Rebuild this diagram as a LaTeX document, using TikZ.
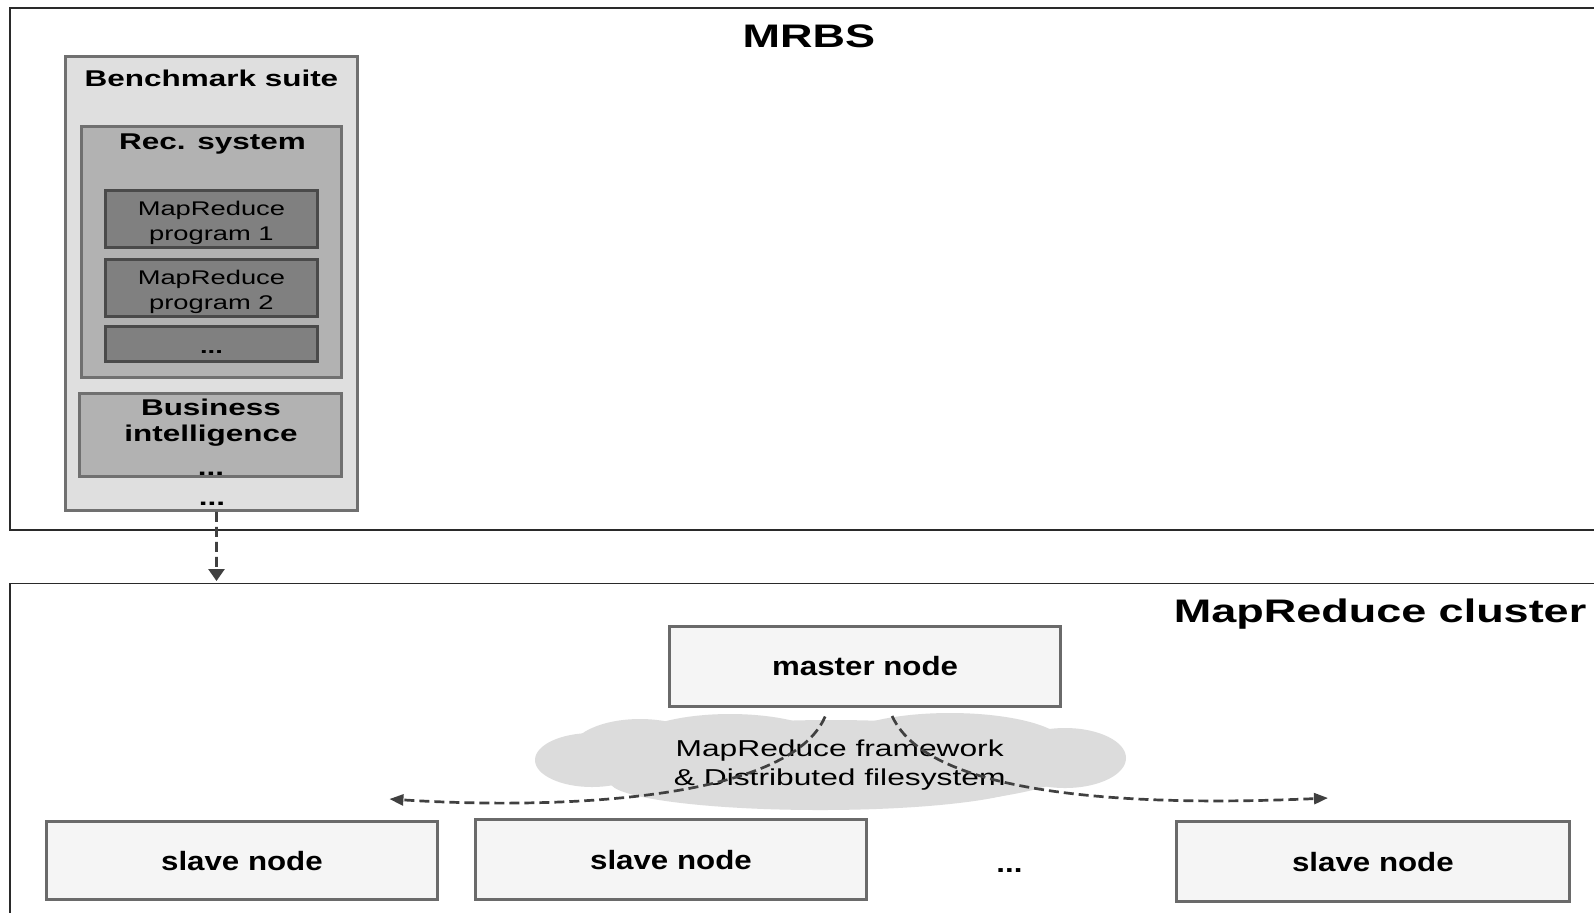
\documentclass[tikz,border=0pt]{standalone}
\usepackage{fontspec}
\usetikzlibrary{arrows.meta}
\newfontfamily\widefont[FakeStretch=1.38]{Liberation Sans}
\newfontfamily\midfont[FakeStretch=1.18]{Liberation Sans}
\newcommand{\mytitlefont}{\widefont\bfseries\fontsize{16.3pt}{19pt}\selectfont}
\newcommand{\myheadfont}{\widefont\bfseries\fontsize{11.4pt}{13pt}\selectfont}
\newcommand{\myprogfont}{\widefont\fontsize{9.9pt}{12pt}\selectfont}
\newcommand{\mycloudfont}{\widefont\fontsize{11.5pt}{13pt}\selectfont}
\newcommand{\myhostfont}{\midfont\bfseries\fontsize{13.25pt}{15pt}\selectfont}
\definecolor{framecol}{HTML}{2A2A2A}
\definecolor{bordergray}{HTML}{707070}
\definecolor{benchfill}{HTML}{DFDFDF}
\definecolor{recfill}{HTML}{B2B2B2}
\definecolor{progfill}{HTML}{808080}
\definecolor{progborder}{HTML}{4A4A4A}
\definecolor{hostfill}{HTML}{F5F5F5}
\definecolor{hostborder}{HTML}{6A6A6A}
\definecolor{cloudgray}{HTML}{DCDCDC}
\definecolor{arrowgray}{HTML}{404040}
\begin{document}
\begin{tikzpicture}[x=0.5pt,y=-0.5pt,
  frame/.style={draw=framecol, line width=0.9pt},
  benchbox/.style={draw=bordergray, line width=1.5pt, fill=benchfill, inner sep=0pt},
  recbox/.style={draw=bordergray, line width=1.5pt, fill=recfill, inner sep=0pt},
  progbox/.style={draw=progborder, line width=1.5pt, fill=progfill, inner sep=0pt},
  hostbox/.style={draw=hostborder, line width=1.5pt, fill=hostfill, inner sep=0pt,
    text height=9.5pt, text depth=0pt, font=\myhostfont},
  lbl/.style={inner sep=0pt, anchor=base},
  cloudpart/.style={fill=cloudgray},
  flow/.style={draw=arrowgray, line width=1.35pt, dash pattern=on 5pt off 2.5pt,
    -{Triangle[length=7pt,width=5.5pt]}}]
\useasboundingbox (0,0) rectangle (1594,912);
\clip (0,0) rectangle (1594,912);
\fill[white] (0,0) rectangle (1594,912);

% outer frames
\draw[frame] (10.2,8.1) rectangle (1640,529.6);
\draw[frame] (10.2,583.5) rectangle (1640,960);
\node[lbl, font=\mytitlefont] (mrbs) at (808.8,47.3) {MRBS};
\node[lbl, anchor=base east, font=\mytitlefont] (cluster) at (1586.7,622.3) {MapReduce cluster};

% benchmark suite
\node[benchbox, minimum width=146.35pt, minimum height=226.7pt] (bench) at (211.45,283.6) {};
\node[lbl, font=\myheadfont] (benchlbl) at (211.5,86.4) {Benchmark suite};
\node[recbox, minimum width=130.15pt, minimum height=125.55pt] (rec) at (211.45,251.65) {};
\node[lbl, font=\myheadfont] (reclbl) at (212.5,149.5) {Rec. system};
\node[progbox, minimum width=105.75pt, minimum height=28.45pt] (prog1) at (211.45,218.55) {};
\node[lbl, font=\myprogfont] (prog1a) at (211.45,215.7) {MapReduce};
\node[lbl, font=\myprogfont] (prog1b) at (211.45,240) {program 1};
\node[progbox, minimum width=105.75pt, minimum height=28.5pt] (prog2) at (211.45,287.7) {};
\node[lbl, font=\myprogfont] (prog2a) at (211.45,284.8) {MapReduce};
\node[lbl, font=\myprogfont] (prog2b) at (211.45,309.1) {program 2};
\node[progbox, minimum width=105.75pt, minimum height=17.8pt] (prog3) at (211.45,344.1) {};
\node[lbl, font=\myprogfont\bfseries] (prog3a) at (211.45,353.8) {...};
\node[recbox, minimum width=131.15pt, minimum height=41.7pt] (bi) at (210.45,435.1) {};
\node[lbl, font=\myheadfont] (bia) at (211,415) {Business};
\node[lbl, font=\myheadfont] (bib) at (211,441) {intelligence};
\node[lbl, font=\myheadfont] (bic) at (211,475) {...};
\node[lbl, font=\myheadfont] (benchdots) at (212,505) {...};

% arrow down to cluster
\coordinate (clustertop) at (216.5,581);
\draw[flow, -{Triangle[length=6pt,width=8pt]}] ([xshift=2.5pt]bench.south) -- (clustertop);

% cloud (filesystem / framework)
\fill[cloudpart] (831,764) ellipse [x radius=250, y radius=44];
\fill[cloudpart] (592,760) ellipse [x radius=57, y radius=27];
\fill[cloudpart] (640,752) ellipse [x radius=70, y radius=33];
\fill[cloudpart] (730,748) ellipse [x radius=105, y radius=34];
\fill[cloudpart] (950,745) ellipse [x radius=115, y radius=32];
\fill[cloudpart] (1065,758) ellipse [x radius=61, y radius=30];
\fill[cloudpart] (820,782) ellipse [x radius=210, y radius=28];

\node[hostbox, minimum width=195.2pt, minimum height=40.15pt] (master) at (865.1,666.35) {master node};
\node[hostbox, minimum width=195.15pt, minimum height=39.15pt] (slave1) at (241.95,860.55) {slave node};
\node[hostbox, minimum width=195.15pt, minimum height=40.15pt] (slave2) at (670.95,859.55) {slave node};
\node[hostbox, minimum width=196.7pt, minimum height=40.15pt] (slave3) at (1372.9,861.55) {slave node};
\node[lbl, font=\myhostfont] (slavedots) at (1009.5,872) {...};

\node[lbl, font=\mycloudfont] (cloudtxt1) at (839.7,756.7) {MapReduce framework};
\node[lbl, font=\mycloudfont] (cloudtxt2) at (839.7,785) {\& Distributed filesystem};

\coordinate (leftend) at (389.4,799);
\coordinate (rightend) at (1328,798);
\draw[flow] ([xshift=-20pt,yshift=-4.25pt]master.south) .. controls (790,800) and (560,810) .. (leftend);
\draw[flow] ([xshift=13.5pt,yshift=-4pt]master.south) .. controls (930,800) and (1150,806) .. (rightend);
\end{tikzpicture}
\end{document}
